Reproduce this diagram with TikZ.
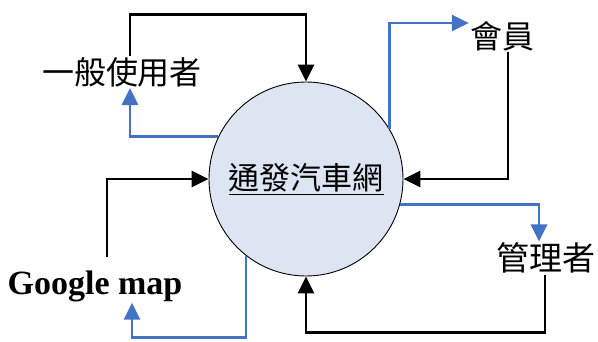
\documentclass[tikz,border=0pt]{standalone}
\usepackage{fontspec}
\setmainfont{Liberation Serif}
\newfontfamily\cjk{Noto Sans CJK TC}
\usetikzlibrary{arrows.meta}
\definecolor{flowblue}{RGB}{68,114,196}
\definecolor{circfill}{RGB}{221,229,242}
\tikzset{
  x=1pt, y=1pt,
  lbl/.style={inner sep=1pt, font=\cjk\fontsize{32}{36}\selectfont},
  blk/.style={draw=black, line width=2.8pt, -{Triangle[length=17pt,width=16pt]}},
  blu/.style={draw=flowblue, line width=2.8pt, -{Triangle[length=17pt,width=16pt]}},
}
\begin{document}
\begin{tikzpicture}
\useasboundingbox (0,0) rectangle (598,341);
\node[circle, draw=black, line width=0.9pt, fill=circfill, minimum size=194pt, inner sep=0pt,
      font=\cjk\fontsize{31}{36}\selectfont] (c) at (306,162) {\underline{通發汽車網}};
\node[lbl] (u) at (122,269) {一般使用者};
\node[lbl] (m) at (502,305) {會員};
\node[lbl, font=\cjk\fontsize{33}{38}\selectfont] (a) at (546,83) {管理者};
\node[inner sep=1pt, anchor=base, font=\fontsize{34}{40}\selectfont\bfseries] (g) at (95,47) {Google map};

% 一般使用者 -> 通發汽車網
\draw[blk] ([xshift=8pt]u.north) |- ([yshift=67pt]c.north) -- (c.north);
% 通發汽車網 -> 一般使用者
\draw[blu] (c.154.5) -| ([xshift=8pt]u.south);
% 通發汽車網 -> 會員
\draw[blu] (c.31) |- ([yshift=13pt]m.west);
% 會員 -> 通發汽車網
\draw[blk] ([xshift=6pt]m.south) |- (c.east);
% 通發汽車網 -> 管理者
\draw[blu] (c.-15) -| ([xshift=-7pt]a.north);
% 管理者 -> 通發汽車網
\draw[blk] ([xshift=-1pt]a.south) |- ([yshift=-56pt]c.south) -- (c.south);
% Google map -> 通發汽車網
\draw[blk] ([xshift=12pt,yshift=12pt]g.north) |- (c.west);
% 通發汽車網 -> Google map
\draw[blu] (c.232) -- ++(0,-82) -| ([xshift=37pt]g.south);
\end{tikzpicture}
\end{document}
